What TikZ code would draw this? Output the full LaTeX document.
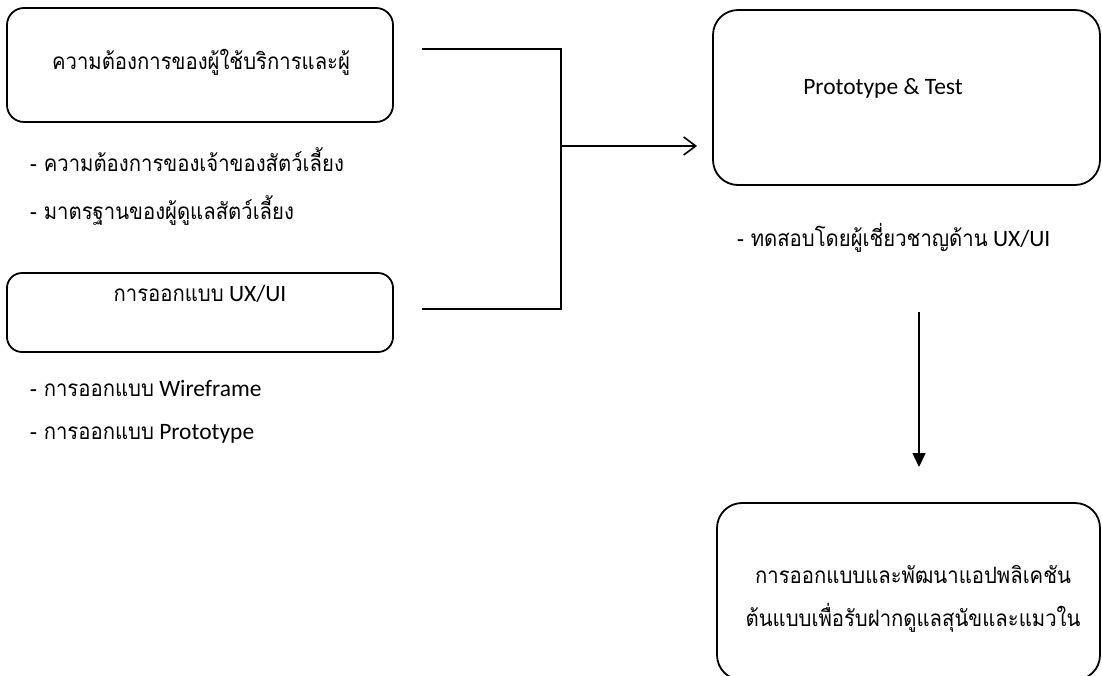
\documentclass[tikz,border=0pt]{standalone}
\usepackage{fontspec}
\setmainfont{Carlito}
\newfontfamily\thai[Script=Thai,Scale=0.96,FakeStretch=0.9]{Loma}
\usetikzlibrary{arrows.meta}
\begin{document}
\begin{tikzpicture}[x=1pt,y=-1pt,
  box/.style={draw, line width=1.8pt, inner sep=0pt},
  conn/.style={line width=1.6pt},
  txt/.style={inner sep=0pt, font=\fontsize{23.5}{28}\selectfont},
  lbl/.style={txt, anchor=west}]
\useasboundingbox (0,0) rectangle (1102,675);
\clip (0,0) rectangle (1102,675);
% boxes
\node[box, rounded corners=17pt, minimum width=386pt, minimum height=114pt] (b1) at (200,65) {};
\node[box, rounded corners=15pt, minimum width=386pt, minimum height=79pt] (b2) at (200,312.5) {};
\node[box, rounded corners=25pt, minimum width=387pt, minimum height=175pt] (b3) at (906.5,97.5) {};
\node[box, rounded corners=25pt, minimum width=383pt, minimum height=177pt] (b4) at (908.5,591.5) {};
% texts
\node[txt] (t1) at (201,62) {\thai ความต้องการของผู้ใช้บริการและผู้};
\node[lbl] (l1) at (30,160) {\thai - ความต้องการของเจ้าของสัตว์เลี้ยง};
\node[lbl] (l2) at (30,210) {\thai - มาตรฐานของผู้ดูแลสัตว์เลี้ยง};
\node[txt] (t2) at (200,294) {{\thai การออกแบบ} UX/UI};
\node[lbl] (l3) at (30,388) {{\thai - การออกแบบ} Wireframe};
\node[lbl] (l4) at (30,434) {{\thai - การออกแบบ} Prototype};
\node[txt] (t3) at (883,88) {Prototype \& Test};
\node[lbl] (l5) at (737,238) {{\thai - ทดสอบโดยผู้เชี่ยวชาญด้าน} UX/UI};
\node[txt] (t4) at (913,574) {\thai การออกแบบและพัฒนาแอปพลิเคชัน};
\node[txt] (t5) at (913,618) {\thai ต้นแบบเพื่อรับฝากดูแลสุนัขและแมวใน};
% connectors
\coordinate (c1) at (422,49);
\coordinate (c2) at (561,49);
\coordinate (c3) at (561,309);
\coordinate (c4) at (422,309);
\coordinate (j) at (561,146);
\coordinate (a1) at (697,146);
\coordinate (v1) at (919,312);
\coordinate (v2) at (919,467);
\draw[conn] (c1) -- (c2) -- (c3) -- (c4);
\draw[conn, -{Straight Barb[length=12pt, width=18pt, line width=1.6pt]}] (j) -- (a1);
\draw[conn, -{Triangle[length=14pt, width=13pt]}] (v1) -- (v2);
\end{tikzpicture}
\end{document}
